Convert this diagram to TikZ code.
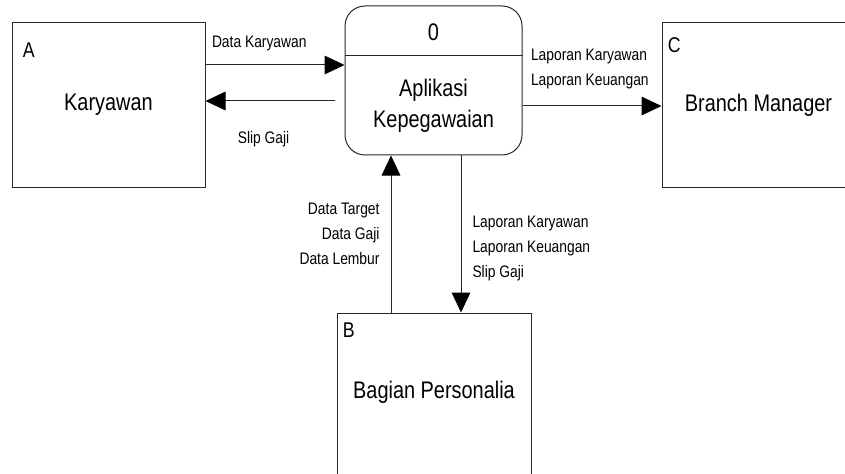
\documentclass[tikz,border=0pt]{standalone}
\usepackage{fontspec}
\setmainfont[FakeStretch=0.83]{Liberation Sans}
\usetikzlibrary{arrows.meta}

\definecolor{LineColor}{RGB}{40,40,40}

\begin{document}
\begin{tikzpicture}[
		x=0.75pt, y=-0.75pt,
		entity/.style={draw=LineColor, line width=0.75pt, inner sep=0pt, minimum width=144.75pt, minimum height=123pt, font=\fontsize{18}{22}\selectfont},
		process/.style={draw=LineColor, line width=0.75pt, rounded corners=15pt, inner sep=0pt, minimum width=132.75pt, minimum height=111.75pt},
		tag/.style={inner sep=0pt, font=\fontsize{16}{19}\selectfont},
		bigtext/.style={font=\fontsize{18}{23}\selectfont, align=center},
		flow/.style={draw=LineColor, line width=0.75pt, -{Triangle[length=15pt, width=14pt, color=black]}},
		lbl/.style={font=\fontsize{12.5}{18.75}\selectfont, inner sep=0pt}
	]

	\useasboundingbox (0,0) rectangle (845,474);
	\clip (0,0) rectangle (845,474);

	% Entities
	\node[entity] (A) at (108.5,105) {Karyawan};
	\node[entity] (C) at (758.5,105) {Branch Manager};
	\node[entity, minimum width=145.5pt] (B) at (434,395) {};
	\node[bigtext] (Btext) at (434,392) {Bagian Personalia};

	\node[tag, anchor=base west] (Atag) at ([shift={(11,35)}]A.north west) {A};
	\node[tag, anchor=base west] (Ctag) at ([shift={(6,30)}]C.north west) {C};
	\node[tag, anchor=base west] (Btag) at ([shift={(6,25)}]B.north west) {B};

	% Process
	\node[process] (proc) at (433.5,80.5) {};
	\draw[LineColor, line width=0.75pt] (proc.west |- 0,56) -- (proc.east |- 0,56);
	\node[bigtext] (procnum) at (433.5,32) {0};
	\node[bigtext] (procname) at (433.5,106) {Aplikasi\\Kepegawaian};

	% Arrows
	\coordinate (slipstart) at ([xshift=-7.5pt]proc.west);
	\draw[flow] (A.east |- 0,65) -- node[lbl, pos=0, anchor=west, xshift=4.5pt, yshift=16.5pt] (dk) {Data Karyawan} (proc.west |- 0,65);
	\draw[flow] (slipstart |- 0,101) -- node[lbl, pos=0.55, yshift=-28.9pt] (sg) {Slip Gaji} (A.east |- 0,101);
	\draw[flow] (proc.east |- 0,106) -- node[lbl, pos=0, anchor=west, align=left, xshift=6pt, yshift=28pt] (lapC) {Laporan Karyawan\\Laporan Keuangan} (C.west |- 0,106);
	\draw[flow] (B.north -| 391,0) -- node[lbl, pos=0.5, anchor=east, align=right, xshift=-8.25pt] (dataB) {Data Target\\Data Gaji\\Data Lembur} (proc.south -| 391,0);
	\draw[flow] (proc.south -| 461,0) -- node[lbl, pos=0.59, anchor=west, align=left, xshift=8.25pt] (lapB) {Laporan Karyawan\\Laporan Keuangan\\Slip Gaji} (B.north -| 461,0);

\end{tikzpicture}
\end{document}
